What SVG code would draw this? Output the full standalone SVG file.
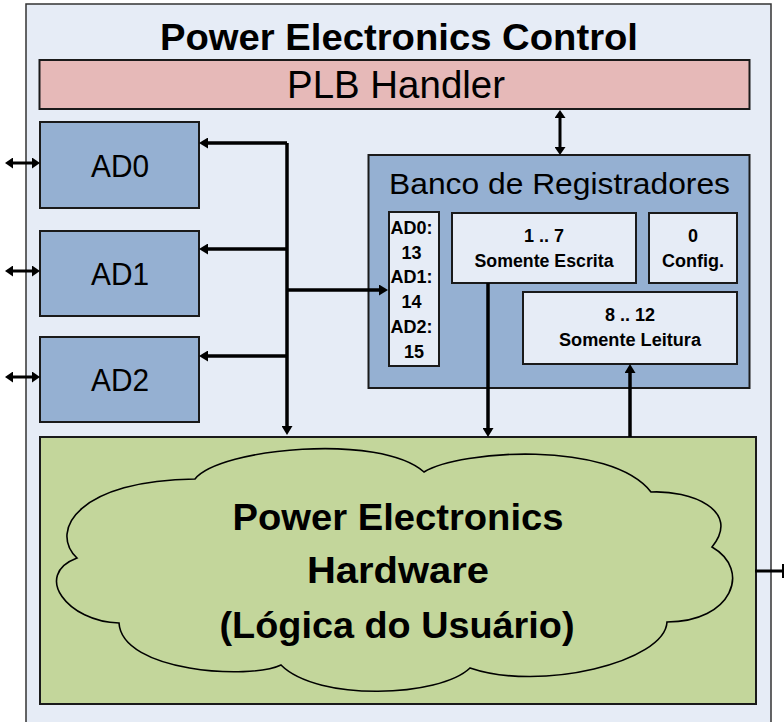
<svg xmlns="http://www.w3.org/2000/svg" width="784" height="722" viewBox="0 0 784 722">
<defs>
<style>
.box{stroke:#1a1a1a;stroke-width:2}
.blue{fill:#95b0d2}
.light{fill:#e6ecf6}
.t{font-family:"Liberation Sans",Arial,sans-serif;fill:#000;text-anchor:middle}
.b{font-weight:bold}
.wire{fill:none;stroke:#000;stroke-width:3.5}
.dbl{fill:none;stroke:#000;stroke-width:3}
</style>
<marker id="ah" viewBox="0 0 9 11" refX="5" refY="5.5" markerWidth="9" markerHeight="11" markerUnits="userSpaceOnUse" orient="auto-start-reverse">
<path d="M0,0 L9,5.5 L0,11 z" fill="#000"/>
</marker>
<marker id="as" viewBox="0 0 8 11" refX="4" refY="5.5" markerWidth="8" markerHeight="11" markerUnits="userSpaceOnUse" orient="auto-start-reverse">
<path d="M0,0 L8,5.5 L0,11 z" fill="#000"/>
</marker>
</defs>

<g id="outer">
<rect x="26" y="4" width="745" height="730" fill="#e6ecf6" stroke="#333" stroke-width="1.5"/>
<text class="t b" x="399" y="50" font-size="37" textLength="478" lengthAdjust="spacingAndGlyphs">Power Electronics Control</text>
</g>

<g id="plb">
<rect class="box" x="39.5" y="60" width="710" height="49" fill="#e6b9b8"/>
<text class="t" x="396" y="98" font-size="39" textLength="218" lengthAdjust="spacingAndGlyphs">PLB Handler</text>
</g>

<g id="ad0">
<rect class="box blue" x="40" y="122" width="159" height="86"/>
<text class="t" x="120" y="177" font-size="32" textLength="58" lengthAdjust="spacingAndGlyphs">AD0</text>
</g>
<g id="ad1">
<rect class="box blue" x="40" y="231" width="159" height="85"/>
<text class="t" x="120" y="285" font-size="32" textLength="58" lengthAdjust="spacingAndGlyphs">AD1</text>
</g>
<g id="ad2">
<rect class="box blue" x="40" y="337" width="159" height="85"/>
<text class="t" x="120" y="391" font-size="32" textLength="58" lengthAdjust="spacingAndGlyphs">AD2</text>
</g>

<g id="banco">
<rect class="box blue" x="368.5" y="155" width="381" height="233"/>
<text class="t" x="559.5" y="194" font-size="30" textLength="341" lengthAdjust="spacingAndGlyphs">Banco de Registradores</text>
</g>

<g id="adlist">
<rect class="box light" x="389" y="212" width="50" height="154"/>
<text class="t b" x="414" font-size="18">
<tspan x="414" y="234">AD0:</tspan>
<tspan x="414" y="258.5">13</tspan>
<tspan x="414" y="283">AD1:</tspan>
<tspan x="414" y="308">14</tspan>
<tspan x="414" y="333">AD2:</tspan>
<tspan x="414" y="358">15</tspan>
</text>
</g>

<g id="escrita">
<rect class="box light" x="452" y="213" width="184" height="70"/>
<text class="t b" x="544" y="242" font-size="18">1 .. 7</text>
<text class="t b" x="544" y="267" font-size="18" textLength="139" lengthAdjust="spacingAndGlyphs">Somente Escrita</text>
</g>

<g id="config">
<rect class="box light" x="649" y="213" width="88" height="70"/>
<text class="t b" x="693" y="242" font-size="18">0</text>
<text class="t b" x="693" y="267" font-size="18">Config.</text>
</g>

<g id="leitura">
<rect class="box light" x="523" y="292" width="214" height="72"/>
<text class="t b" x="630" y="321" font-size="18">8 .. 12</text>
<text class="t b" x="630" y="346" font-size="18" textLength="142" lengthAdjust="spacingAndGlyphs">Somente Leitura</text>
</g>

<g id="hardware">
<rect class="box" x="40" y="437" width="716" height="267" fill="#c3d69b"/>
<path d="M195,479 C220,448 380,433 424,472 C460,450 610,440 651,492 C690,490 742,510 712,547 C752,570 732,622 667,622 C665,662 540,692 470,668 C440,697 318,702 281,665 C250,680 122,672 119,623 C68,622 32,575 77,558 C48,530 80,480 195,479 Z" fill="#c3d69b" stroke="#000" stroke-width="1.6"/>
<text class="t b" x="398" y="530" font-size="36" textLength="331" lengthAdjust="spacingAndGlyphs">Power Electronics</text>
<text class="t b" x="398" y="583" font-size="36" textLength="182" lengthAdjust="spacingAndGlyphs">Hardware</text>
<text class="t b" x="397" y="638" font-size="36" textLength="355" lengthAdjust="spacingAndGlyphs">(Lógica do Usuário)</text>
</g>

<g id="connectors">
<path class="wire" d="M287,143 L287,431" marker-end="url(#ah)"/>
<path class="wire" d="M287,143 L203,143" marker-end="url(#ah)"/>
<path class="wire" d="M287,249 L203,249" marker-end="url(#ah)"/>
<path class="wire" d="M287,356 L203,356" marker-end="url(#ah)"/>
<path class="wire" d="M287,290 L384,290" marker-end="url(#ah)"/>
<path class="wire" d="M488,283 L488,433" marker-end="url(#ah)"/>
<path class="wire" d="M630,437 L630,368" marker-end="url(#ah)"/>
<path class="dbl" d="M560,114 L560,151" marker-start="url(#as)" marker-end="url(#as)"/>
<path class="dbl" d="M9,163 L36,163" marker-start="url(#as)" marker-end="url(#as)"/>
<path class="dbl" d="M9,271 L36,271" marker-start="url(#as)" marker-end="url(#as)"/>
<path class="dbl" d="M9,377 L36,377" marker-start="url(#as)" marker-end="url(#as)"/>
<path class="dbl" d="M755,571 L784,571"/>
<path d="M783,564 L783,578" stroke="#000" stroke-width="2"/>
</g>
</svg>
